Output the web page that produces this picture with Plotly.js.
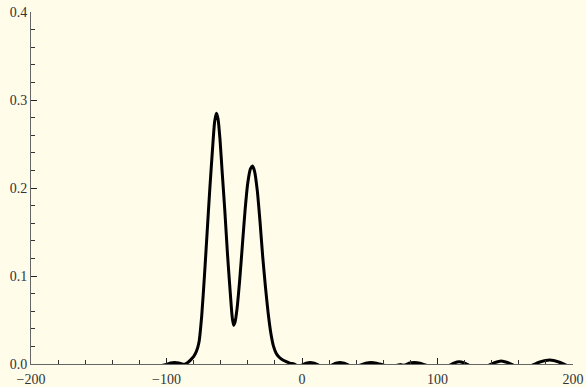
<!DOCTYPE html>
<html>
<head>
<meta charset="utf-8">
<script src="https://cdn.plot.ly/plotly-3.0.1.min.js"></script>
<style>
html,body{margin:0;padding:0;background:#fffcea;}
#chart{width:586px;height:387px;}
</style>
</head>
<body>
<div id="chart"></div>
<script>
// Curve samples (x, y)
var xValues = [
  -200, -150, -110, -100, -97, -94, -91, -88, -86, -84, -82, -80, -78, -76,
  -74, -72, -70, -68, -66, -64.5, -63.2, -62, -60.5, -59, -57, -55, -53,
  -51.5, -50.5, -49.5, -48, -46, -44, -42, -40, -38, -36.5, -35, -33, -31,
  -29, -27, -25, -23, -21, -19, -17, -15, -12, -9, -6, -4, -2,
  0, 3, 6, 9, 12.3, 17, 22, 25, 28, 31, 34.4, 39, 43, 47, 51, 55, 60, 65,
  71, 72.5, 74, 75, 76, 79, 83, 87, 91, 100, 109, 112, 116, 120, 123, 130,
  138, 142, 147, 152, 156, 163, 170, 175, 183, 190, 195, 200
];
var yValues = [
  -0.004, -0.004, -0.003, -0.0005, 0.0012, 0.0018, 0.0012, -0.0003, 0.0, 0.002, 0.005, 0.0085, 0.014, 0.025,
  0.055, 0.100, 0.150, 0.200, 0.245, 0.275, 0.285, 0.279, 0.255, 0.220, 0.175, 0.125, 0.082,
  0.053, 0.044, 0.047, 0.062, 0.095, 0.135, 0.175, 0.206, 0.222, 0.225, 0.219, 0.197, 0.162,
  0.122, 0.088, 0.058, 0.035, 0.020, 0.012, 0.008, 0.0055, 0.003, 0.001, 0.0, -0.0015, -0.0025,
  -0.0012, 0.0008, 0.0018, 0.0008, -0.0012, -0.003, -0.0012, 0.0008, 0.0018, 0.0008, -0.0012, -0.003, -0.0012, 0.001, 0.0018, 0.001, -0.0012, -0.003,
  -0.0012, -0.0005, -0.0012, -0.0013, -0.0012, 0.001, 0.0018, 0.001, -0.0012, -0.004, -0.0012, 0.001, 0.0025, 0.001, -0.0012, -0.004,
  -0.0012, 0.0015, 0.0035, 0.0015, -0.0012, -0.004, -0.0012, 0.002, 0.0045, 0.002, -0.0012, -0.003
];
var xTickValues = [-200, -100, 0, 100, 200];
var yTickValues = [0.0, 0.1, 0.2, 0.3, 0.4];

var bg = '#fffcea';
var fontSpec = {family: 'Liberation Serif, Times New Roman, serif', size: 14, color: '#333333'};

var trace = {
  x: xValues,
  y: yValues,
  type: 'scatter',
  mode: 'lines',
  line: {color: '#000000', width: 3, shape: 'spline', smoothing: 0.6},
  hoverinfo: 'none'
};

var layout = {
  width: 586,
  height: 387,
  margin: {l: 31, r: 13, t: 12, b: 23, pad: 0},
  paper_bgcolor: bg,
  plot_bgcolor: bg,
  showlegend: false,
  font: fontSpec,
  xaxis: {
    range: [-200, 200],
    tickmode: 'array',
    tickvals: xTickValues,
    ticktext: xTickValues.map(function(v){ return v < 0 ? '\u2212' + Math.abs(v) : String(v); }),
    ticks: 'inside',
    ticklen: 6,
    tickwidth: 1,
    tickcolor: '#222222',
    ticklabelstandoff: 2,
    minor: {dtick: 20, tick0: 0, ticks: 'inside', ticklen: 4, tickwidth: 1, tickcolor: '#333333', showgrid: false},
    showline: true,
    linecolor: '#666666',
    linewidth: 1,
    showgrid: false,
    zeroline: false,
    tickfont: fontSpec,
    fixedrange: true
  },
  yaxis: {
    range: [0, 0.4],
    tickmode: 'array',
    tickvals: yTickValues,
    ticktext: yTickValues.map(function(v){ return v.toFixed(1); }),
    ticks: 'inside',
    ticklen: 6,
    tickwidth: 1,
    tickcolor: '#222222',
    minor: {dtick: 0.02, tick0: 0, ticks: 'inside', ticklen: 4, tickwidth: 1, tickcolor: '#333333', showgrid: false},
    showline: true,
    linecolor: '#666666',
    linewidth: 1,
    showgrid: false,
    zeroline: false,
    tickfont: fontSpec,
    fixedrange: true
  }
};

Plotly.newPlot('chart', [trace], layout, {staticPlot: true, displayModeBar: false});
</script>
</body>
</html>
